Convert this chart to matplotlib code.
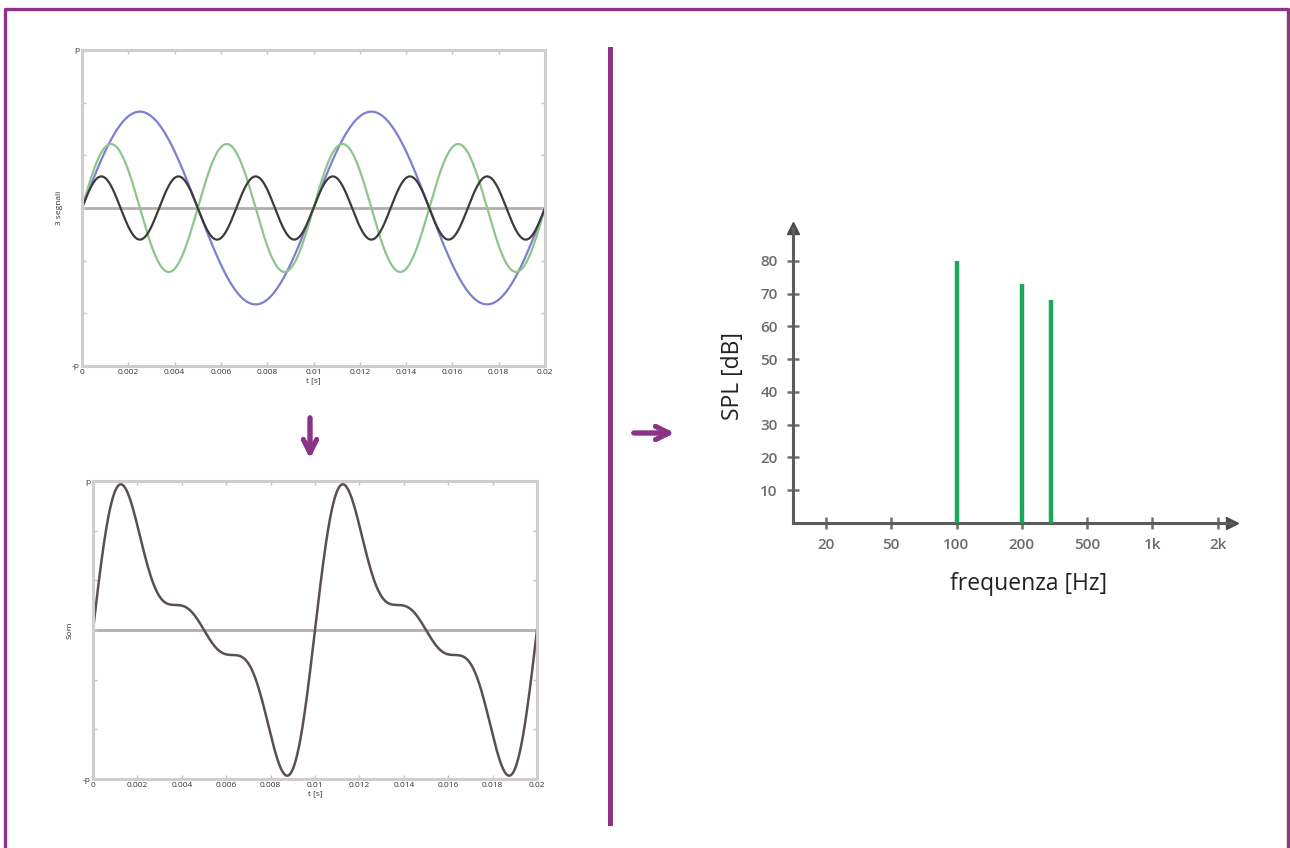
import numpy as np
import matplotlib

matplotlib.use("Agg")
import matplotlib.pyplot as plt
from matplotlib.lines import Line2D
from matplotlib.ticker import NullLocator

plt.rcParams["font.family"] = ["Open Sans", "DejaVu Sans"]

# --- data ---
# the three pure tones in the top panel (amplitude as a fraction of p)
tone_freqs_hz = [100, 200, 300]
tone_amplitudes = [0.61, 0.405, 0.20]
tone_colors = ["#7f7fd2", "#8cc68c", "#3f3a3a"]

t_max = 0.02
time_ticks = [0, 0.002, 0.004, 0.006, 0.008, 0.01, 0.012, 0.014, 0.016, 0.018, 0.02]
time_tick_labels = ["0", "0.002", "0.004", "0.006", "0.008", "0.01",
                    "0.012", "0.014", "0.016", "0.018", "0.02"]
p_ticks = [-1, -2 / 3, -1 / 3, 0, 1 / 3, 2 / 3, 1]
p_tick_labels = ["-p", "", "", "", "", "", "p"]

# spectrum panel
spl_freqs_hz = [100, 200, 300]
spl_db = [80, 73, 68]
freq_ticks_hz = [20, 50, 100, 200, 500, 1000, 2000]
freq_tick_labels = ["20", "50", "100", "200", "500", "1k", "2k"]
spl_ticks = [10, 20, 30, 40, 50, 60, 70, 80]

W, H = 1290, 848
PURPLE = "#8b3486"
FRAME_GRAY = "#d2cdcd"


def rect(left, top, right, bottom):
    return [left / W, 1 - bottom / H, (right - left) / W, (bottom - top) / H]


def fxy(x, y):
    return x / W, 1 - y / H


fig = plt.figure(figsize=(W / 100, H / 100), dpi=100)

t = np.linspace(0, t_max, 1200)
tones = [a * np.sin(2 * np.pi * f * t) for f, a in zip(tone_freqs_hz, tone_amplitudes)]


def style_signal_ax(ax, ylabel):
    ax.set_xlim(0, t_max)
    ax.set_ylim(-1, 1)
    ax.set_xticks(time_ticks, time_tick_labels)
    ax.set_yticks(p_ticks, p_tick_labels)
    ax.tick_params(direction="in", top=True, right=True, length=3, width=1,
                   color="#c8c3c3", labelsize=6, pad=2, labelcolor="#333333")
    for s in ax.spines.values():
        s.set_color(FRAME_GRAY)
        s.set_linewidth(2.2)
    ax.axhline(0, color="#b3acac", lw=2, zorder=1)
    ax.set_xlabel("t [s]", fontsize=6, labelpad=1, color="#333333")
    ax.set_ylabel(ylabel, fontsize=6, labelpad=6, color="#333333")


# top: three separate tones
ax1 = fig.add_axes(rect(82, 50, 545, 366))
for y, c in zip(tones, tone_colors):
    ax1.plot(t, y, color=c, lw=1.6, zorder=2)
style_signal_ax(ax1, "3 segnali")

# bottom: their sum
ax2 = fig.add_axes(rect(93, 481, 537, 779))
ax2.plot(t, np.sum(tones, axis=0), color="#5a5050", lw=1.8, zorder=2)
style_signal_ax(ax2, "Som")

# right: spectrum, octave-ish axis with evenly spaced labelled ticks
LT = np.log10(freq_ticks_hz)
IDX = np.arange(len(freq_ticks_hz), dtype=float)


def hz_to_pos(f):
    lf = np.log10(np.clip(np.asarray(f, dtype=float), 1e-9, None))
    pos = np.interp(lf, LT, IDX)
    pos = np.where(lf < LT[0], (lf - LT[0]) / (LT[1] - LT[0]), pos)
    pos = np.where(lf > LT[-1], IDX[-1] + (lf - LT[-1]) / (LT[-1] - LT[-2]), pos)
    return pos


def pos_to_hz(p):
    p = np.asarray(p, dtype=float)
    lf = np.interp(p, IDX, LT)
    lf = np.where(p < 0, LT[0] + p * (LT[1] - LT[0]), lf)
    lf = np.where(p > IDX[-1], LT[-1] + (p - IDX[-1]) * (LT[-1] - LT[-2]), lf)
    return 10 ** lf


ax3 = fig.add_axes(rect(793, 228, 1232, 523))
ax3.set_xscale("function", functions=(hz_to_pos, pos_to_hz))
ax3.set_xlim(pos_to_hz(-0.505), pos_to_hz(6.22))
ax3.set_ylim(0, 90)
ax3.vlines(spl_freqs_hz, 0, spl_db, color="#1aa85c", lw=3.2, zorder=3)
ax3.set_xticks(freq_ticks_hz, freq_tick_labels)
ax3.xaxis.set_minor_locator(NullLocator())
ax3.set_yticks(spl_ticks)
ax3.tick_params(direction="inout", length=8, width=1.8, color="#6e6e6e",
                labelsize=11, labelcolor="#6c6c6c", pad=7)
for lbl in ax3.get_xticklabels() + ax3.get_yticklabels():
    lbl.set_fontweight("semibold")
for side in ("top", "right"):
    ax3.spines[side].set_visible(False)
for side in ("left", "bottom"):
    ax3.spines[side].set_color("#5c5c5c")
    ax3.spines[side].set_linewidth(2.2)
ax3.plot([1], [0], marker=">", ms=9, color="#4a4a4a", transform=ax3.transAxes, clip_on=False)
ax3.plot([0], [1], marker="^", ms=9, color="#4a4a4a", transform=ax3.transAxes, clip_on=False)

fig.text(*fxy(733, 376), "SPL [dB]", rotation=90, ha="center", va="center",
         fontsize=16.5, color="#222222")
fig.text(*fxy(1029, 584), "frequenza [Hz]", ha="center", va="center",
         fontsize=16.5, color="#222222")

# purple frame, divider and arrows
fig.add_artist(Line2D([5 / W, 5 / W, 1288 / W, 1288 / W], [0, 1 - 9 / H, 1 - 9 / H, 0],
                      transform=fig.transFigure, color=PURPLE, lw=2.4))
fig.add_artist(Line2D([610 / W, 610 / W], [1 - 49 / H, 1 - 823 / H],
                      transform=fig.transFigure, color=PURPLE, lw=3.6))
fig.add_artist(plt.annotate("", xy=fxy(677, 433), xytext=fxy(631, 433), xycoords="figure fraction",
                            arrowprops=dict(arrowstyle="->", color=PURPLE, lw=3.5, mutation_scale=24)))
fig.add_artist(plt.annotate("", xy=fxy(310, 461), xytext=fxy(310, 415), xycoords="figure fraction",
                            arrowprops=dict(arrowstyle="->", color=PURPLE, lw=3.5, mutation_scale=24)))

fig.savefig("out.png", dpi=100)
plt.close(fig)
